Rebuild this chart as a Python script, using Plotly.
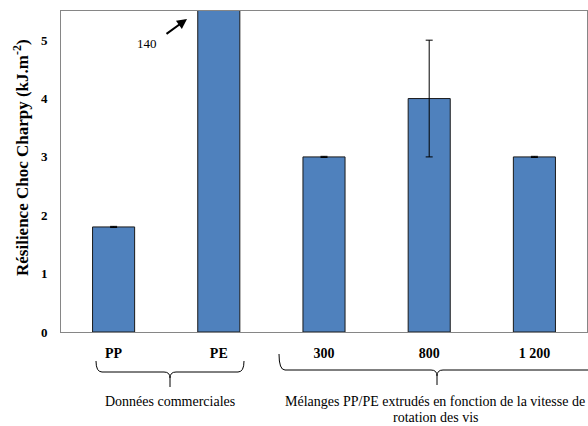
import plotly.graph_objects as go

categories = ["PP", "PE", "300", "800", "1 200"]
resilience = [1.8, 140, 3.0, 4.0, 3.0]
errors = [0.01, 0, 0.01, 1.0, 0.01]
y_ticks = [0, 1, 2, 3, 4, 5]

W, H = 588, 426
L, R, T, B = 61, 1, 11, 426 - 332
pw, ph = W - L - R, H - T - B

def px(x):
    return (x - L) / pw

def py(y):
    return (H - B - y) / ph

def brace(x0, x1, ytop, ymid, ystem, r=6):
    xc = (x0 + x1) / 2
    pts = [
        f"M {px(x0)},{py(ytop)}",
        f"Q {px(x0)},{py(ymid)} {px(x0 + r)},{py(ymid)}",
        f"L {px(xc - r)},{py(ymid)}",
        f"Q {px(xc)},{py(ymid)} {px(xc)},{py(ymid + r)}",
        f"L {px(xc)},{py(ystem)}",
        f"M {px(xc)},{py(ymid + r)}",
        f"Q {px(xc)},{py(ymid)} {px(xc + r)},{py(ymid)}",
        f"L {px(x1 - r)},{py(ymid)}",
        f"Q {px(x1)},{py(ymid)} {px(x1)},{py(ytop)}",
    ]
    return " ".join(pts)

fig = go.Figure()
fig.add_trace(go.Bar(
    x=categories, y=resilience,
    marker=dict(color="#4F81BD", line=dict(color="#1a1a1a", width=1)),
    error_y=dict(type="data", array=errors, visible=True, color="black", thickness=1, width=3.5),
    width=0.4,
))

serif = "Liberation Serif"
txt = dict(family=serif, size=14, color="black")
fig.update_layout(
    width=W, height=H,
    margin=dict(l=L, r=R, t=T, b=B),
    paper_bgcolor="white", plot_bgcolor="white",
    showlegend=False,
    font=dict(family=serif, color="black"),
    xaxis=dict(
        showline=True, mirror=True, linecolor="#868686", linewidth=1,
        showgrid=False, ticks="",
        tickfont=dict(family=serif, size=14, color="black", weight="bold"),
        ticklabelstandoff=8,
    ),
    yaxis=dict(
        range=[0, 5.5], tickvals=y_ticks,
        showline=True, mirror=True, linecolor="#868686", linewidth=1,
        showgrid=False, zeroline=False, ticks="",
        tickfont=dict(family=serif, size=13, color="black", weight="bold"),
        ticklabelstandoff=10,
    ),
    shapes=[
        dict(type="path", xref="paper", yref="paper",
             path=brace(96, 244, 361, 372, 387), line=dict(color="black", width=1)),
        dict(type="path", xref="paper", yref="paper",
             path=brace(279, 595, 354, 370, 385), line=dict(color="black", width=1)),
    ],
    annotations=[
        dict(xref="paper", yref="paper", x=px(21), y=py(158), textangle=-90,
             text="Résilience Choc Charpy (kJ.m<sup>-2</sup>)", showarrow=False,
             font=dict(family=serif, size=17, color="black", weight="bold"),
             xanchor="center", yanchor="middle"),
        dict(xref="paper", yref="paper", x=px(187), y=py(19), ax=-22, ay=16,
             text="", showarrow=True, arrowhead=2, arrowsize=1, arrowwidth=2,
             arrowcolor="black"),
        dict(xref="paper", yref="paper", x=px(147), y=py(43), text="140",
             showarrow=False, font=dict(family=serif, size=13, color="black"),
             xanchor="center", yanchor="middle"),
        dict(xref="paper", yref="paper", x=px(170), y=py(401),
             text="Données commerciales", showarrow=False, font=txt,
             xanchor="center", yanchor="middle"),
        dict(xref="paper", yref="paper", x=px(587), y=py(401),
             text="Mélanges PP/PE extrudés en fonction de la vitesse de",
             showarrow=False, font=txt, xanchor="right", yanchor="middle"),
        dict(xref="paper", yref="paper", x=px(436), y=py(417),
             text="rotation des vis",
             showarrow=False, font=txt, xanchor="center", yanchor="middle"),
    ],
)

fig.write_html("out.html",
               config={"displayModeBar": False},
               post_script="document.body.style.margin='0';document.body.style.overflow='hidden';")
